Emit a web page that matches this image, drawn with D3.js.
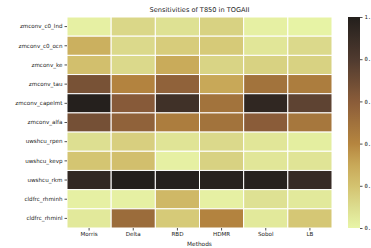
<!doctype html>
<html lang="en">
<head>
<meta charset="utf-8">
<title>Sensitivities of T850 in TOGAII</title>
<style>
html, body { margin: 0; padding: 0; background: #fff; }
svg { display: block; font-family: 'DejaVu Sans', sans-serif; color: #222; }
.tick text { fill: #222; }
</style>
</head>
<body>
<div id="chart"></div>
<script src="https://cdnjs.cloudflare.com/ajax/libs/d3/7.8.5/d3.min.js"></script>
<script>
// data
var methods = ['Morris', 'Delta', 'RBD', 'HDMR', 'Sobol', 'LB'];
var params = ['zmconv_c0_lnd', 'zmconv_c0_ocn', 'zmconv_ke', 'zmconv_tau', 'zmconv_capelmt',
  'zmconv_alfa', 'uwshcu_rpen', 'uwshcu_kevp', 'uwshcu_rkm', 'cldfrc_rhminh', 'cldfrc_rhminl'];
var sens = [
  [0.02, 0.12, 0.08, 0.14, 0.02, 0.01],
  [0.27, 0.11, 0.16, 0.17, 0.06, 0.11],
  [0.21, 0.11, 0.29, 0.13, 0.14, 0.14],
  [0.66, 0.41, 0.57, 0.30, 0.49, 0.44],
  [0.99, 0.61, 0.87, 0.49, 0.94, 0.75],
  [0.67, 0.57, 0.44, 0.49, 0.60, 0.47],
  [0.09, 0.15, 0.07, 0.11, 0.06, 0.03],
  [0.19, 0.21, 0.02, 0.14, 0.06, 0.07],
  [0.93, 1.00, 0.99, 0.98, 0.98, 0.91],
  [0.02, 0.02, 0.24, 0.02, 0.08, 0.05],
  [0.05, 0.52, 0.17, 0.41, 0.05, 0.18]
];
var cbarTicks = [0, 0.2, 0.4, 0.6, 0.8, 1.0];
var colorStops = [0, 0.1, 0.2, 0.3, 0.4, 0.6, 0.8, 1.0];
var colorRange = ['#e8f5a8', '#dcdc8e', '#d3c26f', '#c8a858', '#b5853f', '#8a5c39', '#4f3a2f', '#231f1c'];

(function () {
  'use strict';

  var W = 371, H = 248;
  var left = 67, right = 332, top = 17, bottom = 228;

  var svg = d3.select('#chart').append('svg')
    .attr('width', W).attr('height', H);

  var x = d3.scaleBand().domain(methods).range([left, right]);
  var y = d3.scaleBand().domain(params).range([top, bottom]);
  var color = d3.scaleLinear().domain(colorStops).range(colorRange).clamp(true);

  // cells
  var cells = [];
  sens.forEach(function (row, i) {
    row.forEach(function (v, j) {
      cells.push({ p: params[i], m: methods[j], v: v });
    });
  });

  svg.append('g').selectAll('rect').data(cells).enter()
    .append('rect')
    .attr('x', function (d) { return x(d.m); })
    .attr('y', function (d) { return y(d.p); })
    .attr('width', x.bandwidth())
    .attr('height', y.bandwidth())
    .attr('fill', function (d) { return color(d.v); })
    .attr('stroke', '#fff')
    .attr('stroke-width', 1);

  // axes
  var xAxis = svg.append('g')
    .attr('transform', 'translate(0,' + bottom + ')')
    .call(d3.axisBottom(x).tickSize(2.5).tickPadding(2));
  var yAxis = svg.append('g')
    .attr('transform', 'translate(' + left + ',0)')
    .call(d3.axisLeft(y).tickSize(2.5).tickPadding(2));
  [xAxis, yAxis].forEach(function (a) {
    a.select('.domain').remove();
    a.selectAll('.tick line').attr('stroke', '#222').attr('stroke-width', 0.8);
    a.selectAll('.tick text').attr('font-size', '5.6px').attr('font-family', "'DejaVu Sans', sans-serif");
  });

  // title and x label
  svg.append('text')
    .attr('x', (left + right) / 2).attr('y', 12)
    .attr('text-anchor', 'middle')
    .attr('font-size', '6.6px').attr('fill', '#222')
    .text('Sensitivities of T850 in TOGAII');
  svg.append('text')
    .attr('x', (left + right) / 2).attr('y', 246)
    .attr('text-anchor', 'middle')
    .attr('font-size', '5.8px').attr('fill', '#222')
    .text('Methods');

  // colorbar
  var cbX = 348, cbW = 12;
  var cy = d3.scaleLinear().domain([0, 1]).range([bottom, top]);
  var defs = svg.append('defs');
  var grad = defs.append('linearGradient')
    .attr('id', 'cbar').attr('x1', 0).attr('y1', 1).attr('x2', 0).attr('y2', 0);
  d3.range(0, 1.0001, 0.05).forEach(function (t) {
    grad.append('stop').attr('offset', t).attr('stop-color', color(t));
  });
  svg.append('rect')
    .attr('x', cbX).attr('y', top)
    .attr('width', cbW).attr('height', bottom - top)
    .attr('fill', 'url(#cbar)');
  var cAxis = svg.append('g')
    .attr('transform', 'translate(' + (cbX + cbW) + ',0)')
    .call(d3.axisRight(cy).tickValues(cbarTicks).tickFormat(d3.format('.1f')).tickSize(2.5).tickPadding(2));
  cAxis.select('.domain').remove();
  cAxis.selectAll('.tick line').attr('stroke', '#222').attr('stroke-width', 0.8);
  cAxis.selectAll('.tick text').attr('font-size', '5.6px').attr('font-family', "'DejaVu Sans Mono', monospace");
})();
</script>
</body>
</html>
